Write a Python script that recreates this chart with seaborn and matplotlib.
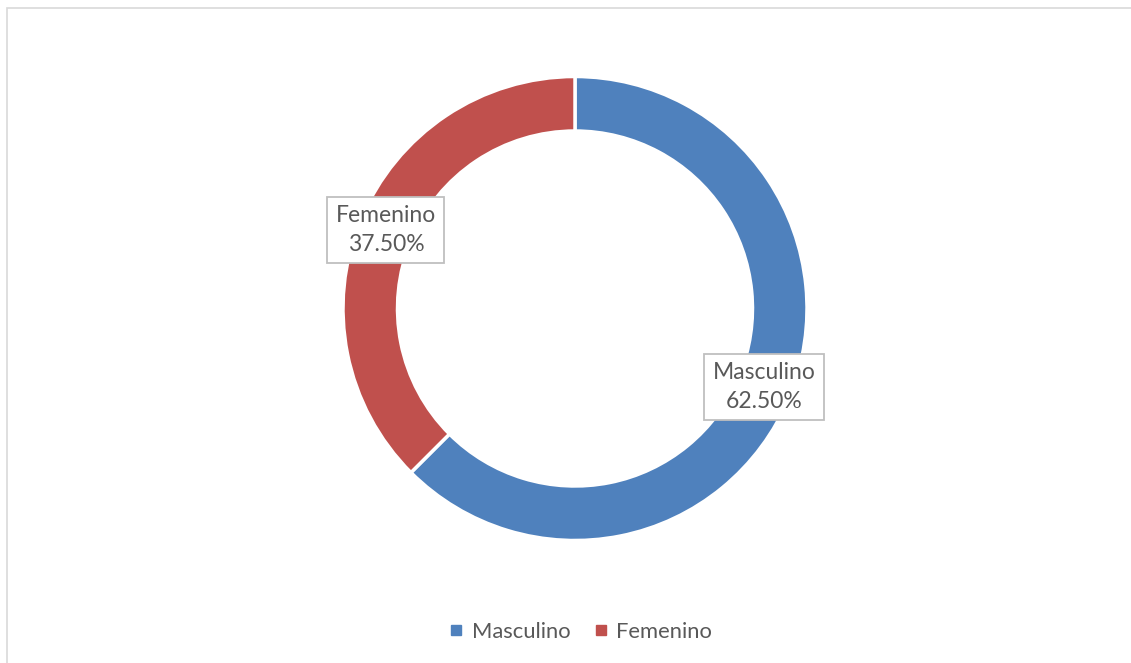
import matplotlib
matplotlib.use("Agg")
import matplotlib.pyplot as plt
import seaborn as sns
import numpy as np
from matplotlib.patches import Rectangle
from matplotlib.lines import Line2D

categories = ["Masculino", "Femenino"]
values = [62.5, 37.5]
labels_pct = ["62.50%", "37.50%"]

sns.set_theme(style="white")
plt.rcParams['font.family'] = ['Lato', 'DejaVu Sans']
colors = ["#4F81BD", "#C0504D"]
text_color = "#595959"

W, H = 1131, 663
fig = plt.figure(figsize=(W / 100, H / 100), dpi=100)
fig.patch.set_facecolor("white")

# outer border (cut off at right/bottom)
fig.patches.append(Rectangle((7 / W, -0.1), 1.2, 1 - 8 / H + 0.1, transform=fig.transFigure,
                             fill=False, edgecolor="#D9D9D9", linewidth=1.2))

cx, cy, R = 575, 308.5, 232
ax = fig.add_axes([(cx - R) / W, (H - cy - R) / H, 2 * R / W, 2 * R / H])
ring_w = 1 - 177.5 / 232
wedges, _ = ax.pie(values, colors=colors, startangle=90, counterclock=False, radius=1,
                   wedgeprops=dict(width=ring_w, edgecolor="white", linewidth=2.5))
ax.set_xlim(-1, 1)
ax.set_ylim(-1, 1)
ax.set_aspect("equal")
ax.axis("off")

mid_r = 1 - ring_w / 2
for w, cat, pct in zip(wedges, categories, labels_pct):
    ang = np.deg2rad((w.theta1 + w.theta2) / 2)
    x, y = mid_r * np.cos(ang), mid_r * np.sin(ang)
    ax.text(x, y, f"{cat}\n{pct}", ha="center", va="center", fontsize=16.5, color=text_color,
            linespacing=1.45, clip_on=False,
            bbox=dict(boxstyle="square,pad=0.36", facecolor="white", edgecolor="#BFBFBF", linewidth=1.3))

handles = [Line2D([0], [0], marker="s", linestyle="none", markersize=7, markerfacecolor=c,
                  markeredgecolor=c) for c in colors]
fig.legend(handles, categories, loc="center", bbox_to_anchor=(580 / W, 1 - 632 / H), ncol=2,
           frameon=False, fontsize=15.8, labelcolor=text_color, handletextpad=0.3,
           columnspacing=1.0, handlelength=0.8)

fig.savefig("out.png", dpi=100)
